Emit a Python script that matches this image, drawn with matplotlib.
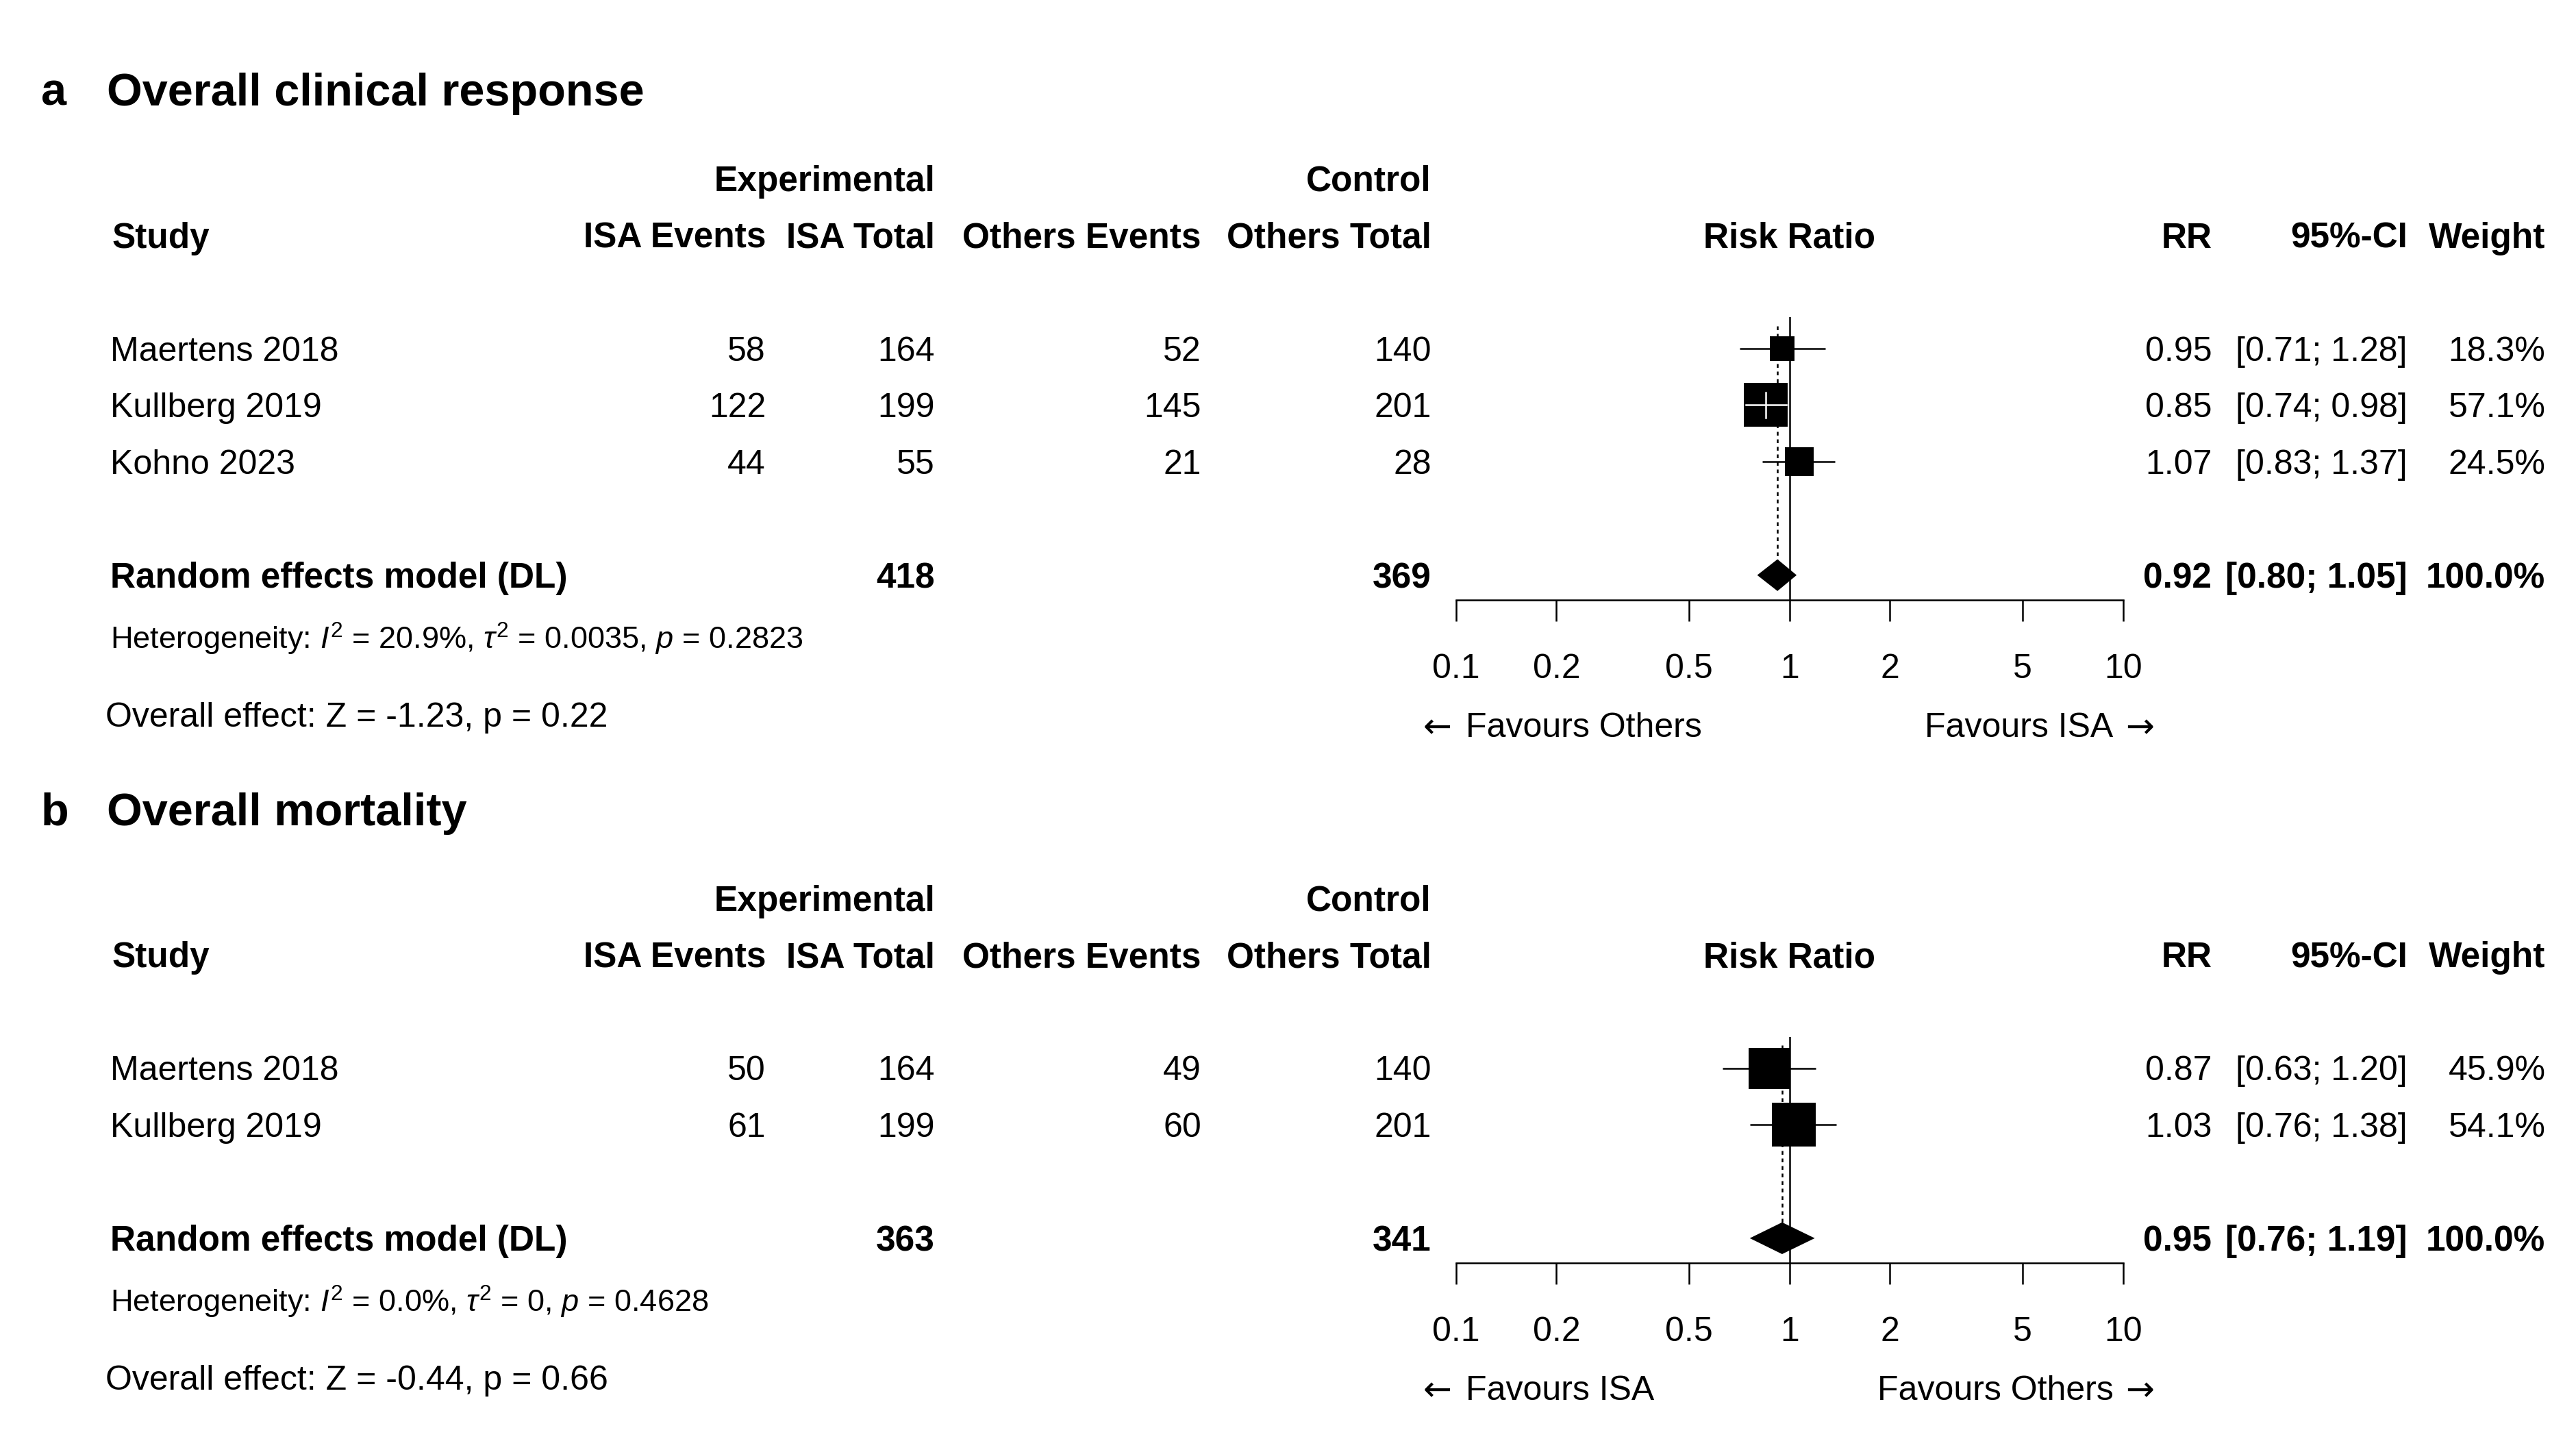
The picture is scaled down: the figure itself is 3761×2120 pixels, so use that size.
import numpy as np
import matplotlib
matplotlib.use('Agg')
import matplotlib.pyplot as plt
from matplotlib import font_manager
from matplotlib.ticker import NullLocator
from matplotlib.transforms import blended_transform_factory

installed = {f.name for f in font_manager.fontManager.ttflist}
FONT = 'Liberation Sans Narrow' if 'Liberation Sans Narrow' in installed else 'Liberation Sans'
plt.rcParams['font.family'] = [FONT, 'DejaVu Sans']
plt.rcParams['mathtext.fontset'] = 'custom'
plt.rcParams['mathtext.rm'] = FONT
plt.rcParams['mathtext.it'] = FONT + ':italic'
plt.rcParams['mathtext.bf'] = FONT + ':bold'

# ---- panel a: overall clinical response
a_study = ['Maertens 2018', 'Kullberg 2019', 'Kohno 2023']
a_isa_events = [58, 122, 44]
a_isa_total = [164, 199, 55]
a_oth_events = [52, 145, 21]
a_oth_total = [140, 201, 28]
a_rr = [0.95, 0.85, 1.07]
a_lo = [0.71, 0.74, 0.83]
a_hi = [1.28, 0.98, 1.37]
a_weight = [18.3, 57.1, 24.5]
a_re = (0.92, 0.80, 1.05)
a_het = r'Heterogeneity: $I^2$ = 20.9%, $\tau^2$ = 0.0035, $p$ = 0.2823'
a_overall = 'Overall effect: Z = -1.23, p = 0.22'
a_fav = ('Favours Others', 'Favours ISA')

# ---- panel b: overall mortality
b_study = ['Maertens 2018', 'Kullberg 2019']
b_isa_events = [50, 61]
b_isa_total = [164, 199]
b_oth_events = [49, 60]
b_oth_total = [140, 201]
b_rr = [0.87, 1.03]
b_lo = [0.63, 0.76]
b_hi = [1.20, 1.38]
b_weight = [45.9, 54.1]
b_re = (0.95, 0.76, 1.19)
b_het = r'Heterogeneity: $I^2$ = 0.0%, $\tau^2$ = 0, $p$ = 0.4628'
b_overall = 'Overall effect: Z = -0.44, p = 0.66'
b_fav = ('Favours ISA', 'Favours Others')

ticks = [0.1, 0.2, 0.5, 1, 2, 5, 10]

fig = plt.figure(figsize=(37.62, 21.2), dpi=100)
W, H = 1568.0, 883.6   # layout grid
SP = 34.5              # row spacing in layout units
BODY = 36
BOLD = 37
HET = 32.5
TITLE = 48
LW = 1.8
DY = 0.06              # text baseline nudge (rows)


def fx(x):
    return x / W


def draw_panel(letter, title, row0, study, ev_e, n_e, ev_c, n_c, rr, lo, hi, weight,
               re, het, overall, fav):
    n = len(study)
    re_row = n + 1
    ybot, ytop = re_row + 0.44, -0.55
    axis_y = row0 + ybot * SP
    top_y = row0 + ytop * SP
    ax = fig.add_axes([fx(886), 1 - axis_y / H, (1292 - 886) / W, (axis_y - top_y) / H])
    ax.set_xscale('log')
    ax.set_xlim(0.1, 10)
    ax.set_ylim(ybot, ytop)
    ax.patch.set_alpha(0)
    for s in ['top', 'right', 'left']:
        ax.spines[s].set_visible(False)
    ax.spines['bottom'].set_linewidth(LW)
    ax.set_yticks([])
    ax.set_xticks(ticks)
    ax.set_xticklabels([f'{t:g}' for t in ticks], fontsize=BODY)
    ax.xaxis.set_minor_locator(NullLocator())
    ax.tick_params(axis='x', length=22, width=LW, pad=34)

    # reference lines
    ax.axvline(1, color='black', lw=LW)
    ax.plot([re[0], re[0]], [ytop + 0.15, re_row - 0.26], color='black', lw=LW,
            ls=(0, (2.2, 2.2)))

    # study estimates
    smax = 2190.0
    for i in range(n):
        ax.plot([lo[i], hi[i]], [i, i], color='black', lw=LW, solid_capstyle='butt')
        s = smax * weight[i] / max(weight)
        ax.scatter(rr[i], i, marker='s', s=s, color='black', zorder=3, linewidths=0)
        half = np.sqrt(s) / 2 * fig.dpi / 72
        px = ax.transData.transform([(lo[i], i), (rr[i], i), (hi[i], i)])[:, 0]
        if px[1] - px[0] < half and px[2] - px[1] < half:
            ax.plot([lo[i], hi[i]], [i, i], color='white', lw=LW, zorder=4)
            ax.plot([rr[i], rr[i]], [i - 0.22, i + 0.22], color='white', lw=LW, zorder=4)

    # diamond
    h = 0.28
    ax.fill([re[1], re[0], re[2], re[0]], [re_row, re_row - h, re_row, re_row + h],
            color='black', lw=0, zorder=3)

    T = blended_transform_factory(fig.transFigure, ax.transData)

    def put(x, row, s, ha='right', bold=False, size=None, family=None):
        if size is None:
            size = BOLD if bold else BODY
        kw = {} if family is None else {'family': family}
        fig.text(fx(x), row + DY, s, transform=T, ha=ha, va='center', fontsize=size,
                 fontweight='bold' if bold else 'normal', **kw)

    put(25, -4.55, letter, ha='left', bold=True, size=TITLE)
    put(65, -4.55, title, ha='left', bold=True, size=TITLE)
    put(569, -3, 'Experimental', bold=True)
    put(871, -3, 'Control', bold=True)
    hdr = [(466, 'ISA Events'), (569, 'ISA Total'), (731, 'Others Events'),
           (871, 'Others Total'), (1346, 'RR'), (1465, '95%-CI'), (1549, 'Weight')]
    put(68, -2, 'Study', ha='left', bold=True)
    for x, t in hdr:
        put(x, -2, t, bold=True)
    put(1089, -2, 'Risk Ratio', ha='center', bold=True)

    for i in range(n):
        put(67, i, study[i], ha='left')
        put(466, i, str(ev_e[i]))
        put(569, i, str(n_e[i]))
        put(731, i, str(ev_c[i]))
        put(871, i, str(n_c[i]))
        put(1346, i, f'{rr[i]:.2f}')
        put(1465, i, f'[{lo[i]:.2f}; {hi[i]:.2f}]')
        put(1549, i, f'{weight[i]:.1f}%')

    put(67, re_row, 'Random effects model (DL)', ha='left', bold=True)
    put(569, re_row, str(sum(n_e)), bold=True)
    put(871, re_row, str(sum(n_c)), bold=True)
    put(1346, re_row, f'{re[0]:.2f}', bold=True)
    put(1465, re_row, f'[{re[1]:.2f}; {re[2]:.2f}]', bold=True)
    put(1549, re_row, '100.0%', bold=True)
    put(67, re_row + 1.07, het, ha='left', size=HET)
    put(64, re_row + 2.45, overall, ha='left')

    fav_row = ybot + 2.2
    put(866, fav_row, '\u2190', ha='left', family='DejaVu Sans')
    put(892, fav_row, fav[0], ha='left')
    put(1286, fav_row, fav[1], ha='right')
    put(1311, fav_row, '\u2192', ha='right', family='DejaVu Sans')


draw_panel('a', 'Overall clinical response', 212, a_study, a_isa_events, a_isa_total,
           a_oth_events, a_oth_total, a_rr, a_lo, a_hi, a_weight, a_re, a_het,
           a_overall, a_fav)
draw_panel('b', 'Overall mortality', 650, b_study, b_isa_events, b_isa_total,
           b_oth_events, b_oth_total, b_rr, b_lo, b_hi, b_weight, b_re, b_het,
           b_overall, b_fav)

fig.savefig('out.png', dpi=100)
